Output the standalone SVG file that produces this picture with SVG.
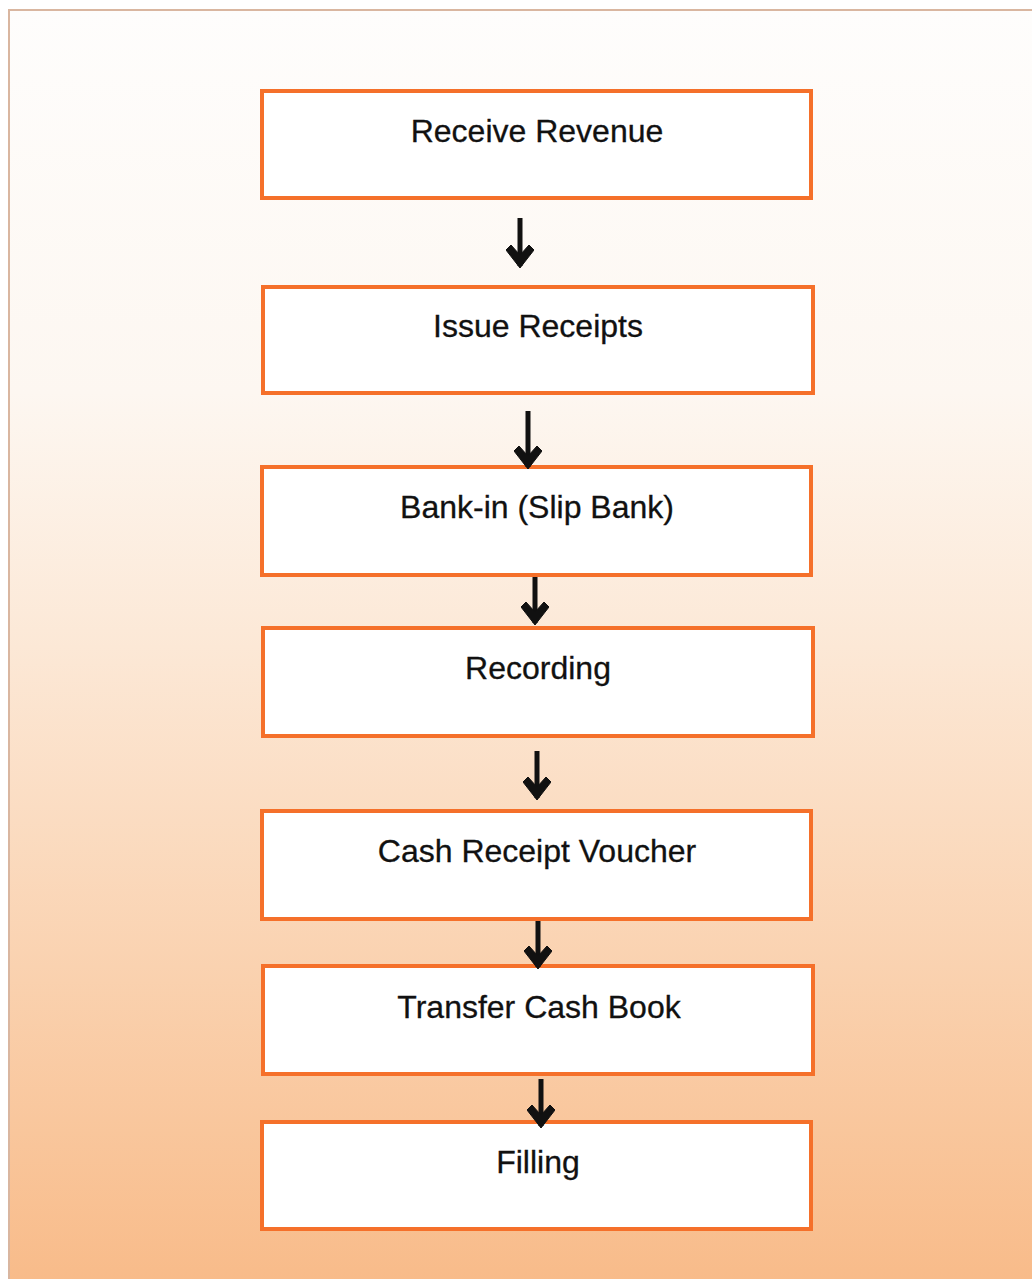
<svg xmlns="http://www.w3.org/2000/svg" width="1032" height="1279" viewBox="0 0 1032 1279">
<defs>
<linearGradient id="bg" x1="0" y1="0" x2="0" y2="1">
<stop offset="0" stop-color="#fefdfc"/>
<stop offset="0.3" stop-color="#fdf7f1"/>
<stop offset="0.5" stop-color="#fce8d6"/>
<stop offset="0.75" stop-color="#fad2b0"/>
<stop offset="1" stop-color="#f8bb89"/>
</linearGradient>
<marker id="ah" viewBox="0 0 24 28" refX="22" refY="14" markerWidth="24" markerHeight="28" markerUnits="userSpaceOnUse" orient="auto">
<path d="M24 14 L6 0 L1 5 L11 14 L1 23 L6 28 Z" fill="#111" stroke="#111" stroke-width="1" stroke-linejoin="round"/>
</marker>
<style>
.box{fill:#ffffff;stroke:#f5702a;stroke-width:4}
.lbl{font-family:"Liberation Sans",Arial,sans-serif;font-size:32px;fill:#111;text-anchor:middle;stroke:#111;stroke-width:0.3}
.arr{stroke:#111;stroke-width:5;fill:none;marker-end:url(#ah)}
</style>
</defs>
<rect x="0" y="0" width="1032" height="1279" fill="#ffffff"/>
<rect x="9" y="10" width="1030" height="1275" fill="url(#bg)" stroke="#d9b6a0" stroke-width="2"/>
<g id="n1"><rect class="box" x="262" y="91" width="549" height="107"/><text class="lbl" x="537" y="142">Receive Revenue</text></g>
<g id="n2"><rect class="box" x="263" y="287" width="550" height="106"/><text class="lbl" x="538" y="337">Issue Receipts</text></g>
<g id="n3"><rect class="box" x="262" y="467" width="549" height="108"/><text class="lbl" x="537" y="518">Bank-in (Slip Bank)</text></g>
<g id="n4"><rect class="box" x="263" y="628" width="550" height="108"/><text class="lbl" x="538" y="679">Recording</text></g>
<g id="n5"><rect class="box" x="262" y="811" width="549" height="108"/><text class="lbl" x="537" y="862">Cash Receipt Voucher</text></g>
<g id="n6"><rect class="box" x="263" y="966" width="550" height="108"/><text class="lbl" x="539" y="1018">Transfer Cash Book</text></g>
<g id="n7"><rect class="box" x="262" y="1122" width="549" height="107"/><text class="lbl" x="538" y="1173">Filling</text></g>
<g id="connectors">
<line class="arr" x1="520" y1="218" x2="520" y2="266"/>
<line class="arr" x1="528" y1="411" x2="528" y2="467"/>
<line class="arr" x1="535" y1="577" x2="535" y2="623"/>
<line class="arr" x1="537" y1="751" x2="537" y2="798"/>
<line class="arr" x1="538" y1="921" x2="538" y2="967"/>
<line class="arr" x1="541" y1="1079" x2="541" y2="1126"/>
</g>
</svg>
